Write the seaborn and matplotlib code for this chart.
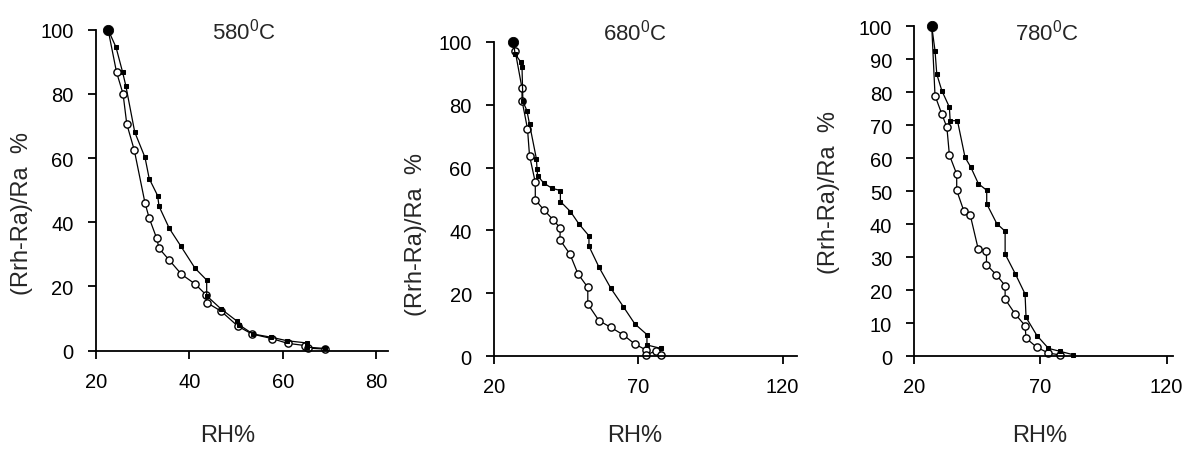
import numpy as np
import pandas as pd
import matplotlib
matplotlib.use("Agg")
import matplotlib.pyplot as plt
import seaborn as sns

# 580 C panel
rh_580_open = [22.6, 24.4, 25.8, 26.6, 28.2, 30.5, 31.4, 33.0, 33.5, 35.7, 38.3, 41.2,
               43.5, 43.7, 46.8, 50.4, 53.4, 57.6, 61.0, 64.8, 65.4, 69.1]
val_580_open = [100, 86.8, 80.0, 70.6, 62.5, 46.0, 41.3, 35.0, 31.9, 28.2, 23.8, 20.8,
                17.5, 15.0, 12.3, 7.6, 5.2, 3.8, 2.3, 1.6, 0.8, 0.5]
rh_580_fill = [22.6, 24.3, 25.7, 26.4, 28.3, 30.5, 31.4, 33.2, 33.5, 35.7, 38.2, 41.2,
               43.7, 43.7, 46.7, 50.1, 50.6, 53.6, 57.5, 60.9, 65.2, 65.2, 69.0]
val_580_fill = [100, 94.5, 86.8, 82.5, 68.1, 60.2, 53.6, 48.3, 45.0, 38.1, 32.5, 25.7,
                22.0, 17.1, 13.1, 9.3, 8.1, 5.2, 4.2, 3.1, 2.4, 1.1, 0.7]

# 680 C panel
rh_680_open = [26.7, 27.3, 29.7, 29.7, 31.6, 32.3, 34.3, 34.3, 37.2, 40.5, 43.0, 42.8,
               46.3, 49.1, 52.5, 52.5, 56.4, 60.5, 64.8, 68.8, 72.7, 72.7, 76.2, 77.9]
val_680_open = [100, 97.2, 85.2, 81.3, 72.3, 63.8, 55.3, 49.8, 46.6, 43.4, 40.7, 37.1,
                32.5, 26.2, 21.9, 16.6, 11.3, 9.2, 6.8, 3.9, 2.0, 0.4, 1.8, 0.4]
rh_680_fill = [26.7, 27.3, 29.3, 29.7, 30.0, 31.4, 32.3, 34.7, 34.9, 35.1, 37.2, 40.1,
               43.0, 43.0, 46.5, 49.4, 52.9, 52.9, 56.4, 60.5, 64.8, 68.8, 73.0, 73.0, 77.9]
val_680_fill = [100, 96.1, 93.5, 91.9, 81.0, 78.1, 73.8, 62.7, 59.5, 57.4, 55.1, 53.4,
                52.7, 49.2, 46.0, 42.1, 38.3, 35.0, 28.3, 21.6, 15.8, 10.3, 6.9, 3.6, 2.5]

# 780 C panel
rh_780_open = [26.9, 28.2, 30.9, 32.9, 33.9, 36.8, 36.8, 39.6, 42.2, 45.3, 48.6, 48.6,
               52.5, 56.0, 56.0, 60.0, 63.9, 64.3, 68.6, 73.2, 77.8]
val_780_open = [100, 79.0, 73.4, 69.4, 61.0, 55.2, 50.3, 44.1, 42.7, 32.6, 31.8, 27.8,
                24.7, 21.4, 17.3, 12.8, 9.3, 5.5, 2.7, 1.0, 0.4]
rh_780_fill = [26.9, 28.2, 28.9, 30.9, 33.9, 34.2, 37.1, 40.1, 42.4, 45.4, 48.7, 48.7,
               52.7, 56.0, 56.0, 60.1, 63.9, 64.3, 68.6, 73.2, 77.8, 82.9]
val_780_fill = [100, 92.6, 85.5, 80.5, 75.5, 71.4, 71.4, 60.3, 57.3, 52.3, 50.3, 46.2,
                40.2, 37.9, 31.0, 24.9, 18.9, 11.8, 6.3, 2.4, 1.5, 0.5]

titles = ["580$^0$C", "680$^0$C", "780$^0$C"]
x_ticks = [[20, 40, 60, 80], [20, 70, 120], [20, 70, 120]]
y_ticks = [list(range(0, 101, 20)), list(range(0, 101, 20)), list(range(0, 101, 10))]
x_max = [82.5, 125, 122.6]

sns.set_style("ticks")
plt.rcParams["font.family"] = ["Liberation Sans", "DejaVu Sans"]
plt.rcParams["mathtext.default"] = "regular"

fig = plt.figure(figsize=(11.89, 4.52), dpi=100)

rects = [
    [0.0807, 0.2219, 0.2456, 0.7102],
    [0.4155, 0.2095, 0.2548, 0.6960],
    [0.7690, 0.2095, 0.2176, 0.7301],
]
title_pos = [(51.7, 99.6), (68.8, 103.3), (72.7, 98.3)]
ylabel_pos = [(-0.216, 0.43), (-0.221, 0.389), (-0.287, 0.498)]
xlabel_pos = [(0.452, -0.228), (0.465, -0.215), (0.486, -0.205)]

panels = [
    (rh_580_open, val_580_open, rh_580_fill, val_580_fill),
    (rh_680_open, val_680_open, rh_680_fill, val_680_fill),
    (rh_780_open, val_780_open, rh_780_fill, val_780_fill),
]

for i, (xo, yo, xf, yf) in enumerate(panels):
    ax = fig.add_axes(rects[i])
    df_open = pd.DataFrame({"RH": xo, "val": yo})
    df_fill = pd.DataFrame({"RH": xf, "val": yf})

    sns.lineplot(data=df_open, x="RH", y="val", sort=False, estimator=None, ax=ax,
                 color="black", linewidth=0.9, marker="o", markersize=5.2,
                 markerfacecolor="white", markeredgecolor="black",
                 markeredgewidth=1.0, clip_on=False)
    sns.lineplot(data=df_fill, x="RH", y="val", sort=False, estimator=None, ax=ax,
                 color="black", linewidth=0.9, marker="s", markersize=3,
                 markerfacecolor="black", markeredgecolor="black", clip_on=False)
    # starting point shows as one solid dot
    sns.scatterplot(data=df_fill.iloc[:1], x="RH", y="val", ax=ax, color="black",
                    s=55, edgecolor="black", clip_on=False, zorder=5)

    ax.set_xlim(20, x_max[i])
    ax.set_ylim(0, 100)
    ax.set_xticks(x_ticks[i])
    ax.set_yticks(y_ticks[i])
    sns.despine(ax=ax)
    for sp in ["left", "bottom"]:
        ax.spines[sp].set_linewidth(1.3)
        ax.spines[sp].set_color("black")
    ax.tick_params(axis="both", direction="out", length=6, width=1.3,
                   colors="black", labelsize=14.5)
    ax.tick_params(axis="x", pad=9)
    ax.tick_params(axis="y", pad=10)

    ax.set_xlabel("RH%", fontsize=17)
    ax.set_ylabel("(Rrh-Ra)/Ra  %", fontsize=17)
    ax.xaxis.set_label_coords(*xlabel_pos[i])
    ax.yaxis.set_label_coords(*ylabel_pos[i])
    ax.text(title_pos[i][0], title_pos[i][1], titles[i], fontsize=16,
            ha="center", va="center", clip_on=False)

fig.savefig("out.png", dpi=100, facecolor="white")
